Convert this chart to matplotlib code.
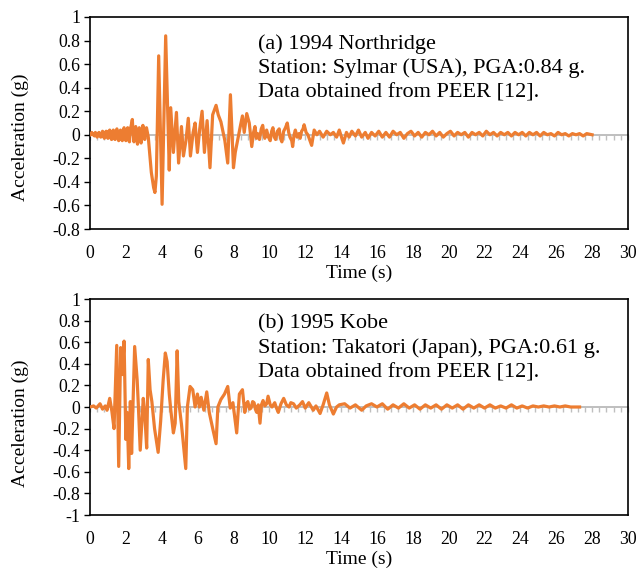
import matplotlib
matplotlib.use("Agg")
import matplotlib.pyplot as plt
import matplotlib.ticker as mticker
import numpy as np

# ---------------- data ----------------
north_t = [0.00, 0.05, 0.10, 0.15, 0.20, 0.25, 0.30, 0.35, 0.40, 0.45, 0.50, 0.55, 0.60, 0.65,
           0.70, 0.75, 0.80, 0.85, 0.90, 0.95, 1.00, 1.05, 1.10, 1.15, 1.20, 1.25, 1.30, 1.35,
           1.40, 1.45, 1.50, 1.55, 1.60, 1.65, 1.70, 1.75, 1.80, 1.85, 1.90, 1.95, 2.00, 2.05,
           2.10, 2.15, 2.20, 2.25, 2.30, 2.36, 2.40, 2.45, 2.50, 2.55, 2.60, 2.65, 2.70, 2.75,
           2.80, 2.85, 2.90, 2.95, 3.00, 3.05, 3.10, 3.15, 3.20, 3.25,
           3.42, 3.55, 3.62, 3.7, 3.83, 4.02, 4.22, 4.42, 4.5, 4.65, 4.82,
           4.94, 5.1, 5.21, 5.35, 5.48, 5.6, 5.75, 5.86, 5.99, 6.12, 6.25, 6.38, 6.53, 6.69,
           6.84, 7.03, 7.15, 7.3, 7.52, 7.68, 7.83, 8.0, 8.1, 8.25, 8.38, 8.5, 8.6, 8.74,
           8.88, 9.02, 9.12, 9.2, 9.28, 9.35, 9.45, 9.55, 9.63, 9.7, 9.75, 9.85, 9.95, 10.05,
           10.13, 10.2, 10.28, 10.35, 10.45, 10.55, 10.62, 10.7, 10.8, 10.9, 11.0, 11.08, 11.15,
           11.25, 11.3, 11.38, 11.45, 11.55, 11.65, 11.72, 11.8, 11.88, 11.94, 12.05,
           12.15, 12.36, 12.5, 12.65, 12.8, 13.0, 13.2, 13.4, 13.57, 13.75, 13.9, 14.13, 14.3,
           14.45, 14.6, 14.8, 14.97, 15.15, 15.35, 15.5, 15.7, 15.9, 16.1, 16.3, 16.5, 16.7,
           16.9, 17.1, 17.3, 17.5, 17.7, 17.9, 18.1, 18.3, 18.5, 18.7, 18.9, 19.1, 19.3, 19.5,
           19.7, 19.9, 20.1, 20.3, 20.5, 20.7, 20.9, 21.1, 21.3, 21.5, 21.7, 21.9, 22.1, 22.3,
           22.5, 22.7, 22.9, 23.1, 23.3, 23.5, 23.7, 23.9, 24.1, 24.3, 24.5, 24.7, 24.9, 25.1,
           25.3, 25.5, 25.7, 25.9, 26.1, 26.3, 26.5, 26.7, 26.9, 27.1, 27.3, 27.5, 27.7, 28.0]
north_a = [0.00, 0.01, 0.02, 0.00, 0.01, -0.01, 0.02, 0.00, -0.02, 0.01, 0.02, -0.01, -0.02, 0.01,
           0.03, -0.01, -0.03, 0.02, 0.03, -0.02, -0.03, 0.03, 0.04, -0.02, -0.04, 0.02, 0.04,
           -0.03, -0.04, 0.03, 0.05, -0.02, -0.05, 0.02, 0.04, -0.03, -0.05, 0.03, 0.06, -0.02,
           -0.05, 0.04, 0.06, -0.04, -0.06, 0.05, 0.08, 0.13, 0.02, -0.06, 0.04, 0.07, -0.03,
           -0.08, 0.02, 0.06, -0.04, -0.07, 0.03, 0.08, 0.01, -0.04, 0.02, 0.06, 0.02, -0.02,
           -0.32, -0.45, -0.49, -0.35, 0.67, -0.59, 0.84, -0.30, 0.23, -0.15, 0.19,
           -0.24, 0.07, -0.18, -0.05, 0.14, -0.18, 0.02, 0.10, -0.15, 0.05, 0.20, -0.15, 0.12,
           -0.28, 0.17, 0.25, 0.17, 0.11, -0.05, -0.24, 0.34, -0.28, -0.15, -0.03, 0.07, 0.16,
           0.02, 0.18, 0.10, -0.10, 0.02, 0.07, -0.03, 0.01, -0.04, 0.05, 0.08, 0.0, -0.03,
           0.04, -0.02, -0.05, 0.03, 0.06, -0.02, -0.04, 0.03, 0.05, -0.03, -0.06, 0.03, 0.06,
           0.10, 0.02, -0.02, -0.05, -0.10, 0.0, 0.04, -0.02, 0.01, -0.03, 0.03, 0.05, 0.085,
           0.02, 0.0, -0.09, 0.04, 0.0, 0.03, -0.02, 0.03, 0.0, 0.02, -0.02, 0.04, -0.07, 0.02,
           -0.02, 0.03, -0.01, 0.04, -0.02, 0.02, -0.03, 0.02, -0.01, 0.03, -0.02, 0.02, -0.02,
           0.03, 0.0, 0.02, -0.03, 0.01, 0.03, -0.01, 0.02, -0.02, 0.02, 0.0, 0.03, -0.01, 0.02,
           -0.02, 0.01, 0.03, -0.01, 0.02, 0.0, 0.02, -0.02, 0.02, 0.0, 0.02, -0.01, 0.03, 0.0,
           0.02, -0.01, 0.02, 0.0, 0.02, -0.01, 0.02, 0.0, 0.02, -0.01, 0.02, 0.0, 0.02, -0.01,
           0.02, 0.0, 0.01, -0.01, 0.02, 0.0, 0.01, -0.01, 0.01, 0.0, 0.01, -0.01, 0.01, 0.0]

kobe_t = [0, 0.2, 0.35, 0.56, 0.7, 0.85, 0.95, 1.1, 1.22, 1.34, 1.49, 1.6, 1.71, 1.8, 1.9, 2.0,
          2.07, 2.16, 2.25, 2.32, 2.49, 2.63, 2.7, 2.8, 2.97, 3.06, 3.16, 3.25, 3.35, 3.45, 3.6,
          3.8, 3.94, 4.08, 4.2, 4.3, 4.42, 4.5, 4.65, 4.75, 4.86, 4.95, 5.1, 5.34, 5.43, 5.58,
          5.73, 5.86, 5.99, 6.1, 6.2, 6.35, 6.51, 6.65, 6.83, 7.03, 7.13, 7.3, 7.5, 7.68, 7.82,
          7.97, 8.18, 8.33, 8.5, 8.63, 8.72, 8.8, 8.9, 8.98, 9.07, 9.15, 9.22, 9.3, 9.38, 9.48,
          9.56, 9.65, 9.75, 9.85, 9.93, 10.05, 10.15, 10.3, 10.4, 10.5, 10.65, 10.8, 10.95, 11.1,
          11.2, 11.35, 11.5, 11.7, 11.85, 12.0, 12.2, 12.45, 12.6, 12.83, 13.0, 13.2, 13.35,
          13.57, 13.75, 13.9, 14.2, 14.5, 14.8, 15.15, 15.4, 15.7, 16.0, 16.3, 16.6, 16.9, 17.2,
          17.5, 17.8, 18.1, 18.4, 18.7, 19.0, 19.3, 19.6, 19.9, 20.2, 20.5, 20.8, 21.1, 21.4,
          21.7, 22.0, 22.3, 22.6, 22.9, 23.2, 23.5, 23.8, 24.1, 24.4, 24.7, 25.0, 25.3, 25.6,
          25.9, 26.2, 26.5, 26.8, 27.3]
kobe_a = [0, 0.01, -0.01, 0.03, -0.02, 0.01, -0.03, 0.08, -0.04, -0.20, 0.57, -0.55, 0.55, 0.30,
          0.61, -0.30, -0.05, -0.57, 0.05, -0.43, 0.56, 0.25, 0.0, -0.40, 0.08, -0.08, -0.38,
          0.44, 0.16, 0.05, -0.20, -0.42, -0.13, 0.25, 0.50, 0.42, 0.12, -0.02, -0.24, -0.15,
          0.52, 0.05, -0.16, -0.57, 0.0, 0.19, 0.16, 0.0, 0.12, 0.0, 0.09, -0.03, 0.14, -0.05,
          -0.19, -0.34, 0.0, 0.07, 0.12, 0.19, -0.01, 0.04, -0.24, 0.12, 0.16, -0.05, 0.03,
          0.05, -0.02, -0.01, 0.05, 0.04, -0.02, -0.05, 0.02, -0.15, 0.02, 0.06, 0.01, 0.03,
          0.10, 0.02, 0.0, 0.04, -0.01, -0.05, 0.03, 0.08, 0.02, 0.0, 0.04, 0.03, -0.01, 0.02,
          0.05, -0.01, 0.04, -0.03, 0.01, -0.06, 0.02, 0.13, 0.02, -0.065, 0.0, 0.02, 0.03,
          -0.01, 0.02, -0.03, 0.01, 0.03, 0.0, 0.03, -0.02, 0.02, -0.01, 0.03, -0.01, 0.02,
          -0.02, 0.02, -0.01, 0.02, -0.02, 0.02, -0.01, 0.02, -0.02, 0.02, -0.01, 0.02, -0.01,
          0.02, -0.01, 0.01, -0.01, 0.02, -0.01, 0.01, -0.01, 0.01, 0.0, 0.01, 0.0, 0.01, 0.0,
          0.01, 0.0, 0.0]

x_ticks = [0, 2, 4, 6, 8, 10, 12, 14, 16, 18, 20, 22, 24, 26, 28, 30]
top_yticks = [-0.8, -0.6, -0.4, -0.2, 0, 0.2, 0.4, 0.6, 0.8, 1]
bot_yticks = [-1, -0.8, -0.6, -0.4, -0.2, 0, 0.2, 0.4, 0.6, 0.8, 1]

top_text = ["(a) 1994 Northridge", "Station: Sylmar (USA), PGA:0.84 g.", "Data obtained from PEER [12]."]
bot_text = ["(b) 1995 Kobe", "Station: Takatori (Japan), PGA:0.61 g.", "Data obtained from PEER [12]."]

# ---------------- style ----------------
plt.rcParams['font.family'] = ['Liberation Serif', 'DejaVu Serif']
W, H = 640, 578
fig = plt.figure(figsize=(W / 100, H / 100), dpi=100)
ORANGE = '#ED7D31'
GRAY = '#BFBFBF'


def fmt(v, pos=None):
    s = ('%.1f' % v).rstrip('0').rstrip('.')
    if s == '-0':
        s = '0'
    return s


def make_panel(rect, t, a, ylim, yticks, texts, text_y, ylabel_y):
    ax = fig.add_axes(rect)
    ax.set_xlim(0, 30)
    ax.set_ylim(*ylim)
    ax.set_yticks(yticks)
    ax.yaxis.set_major_formatter(mticker.FuncFormatter(fmt))
    ax.set_xticks(x_ticks)
    ax.xaxis.set_major_formatter(mticker.FuncFormatter(fmt))
    ax.tick_params(axis='x', length=0, pad=11.5, labelsize=12.8)
    ax.tick_params(axis='y', length=4, width=1.0, pad=3, labelsize=12.8, direction='out')
    for s in ax.spines.values():
        s.set_color('black')
        s.set_linewidth(1.2)
    # zero axis with minor ticks
    loc = (0 - ylim[0]) / (ylim[1] - ylim[0])
    sec = ax.secondary_xaxis(loc)
    sec.set_alignment('bottom')
    sec.set_xticks(np.arange(0, 30.01, 0.4))
    sec.tick_params(axis='x', length=3.5, width=1.0, color=GRAY, labelbottom=False, labeltop=False,
                    direction='out')
    for s in sec.spines.values():
        s.set_color(GRAY)
        s.set_linewidth(1.4)
    ax.plot(t, a, color=ORANGE, lw=2.3, solid_joinstyle='round', zorder=3)
    ax.set_xlabel('Time (s)', fontsize=14, labelpad=2)
    fig.text(20 / W, 1 - ylabel_y / H, 'Acceleration (g)', rotation=90, ha='center', va='center',
             fontsize=14)
    for i, s in enumerate(texts):
        fig.text(258 / W, 1 - (text_y + 24.5 * i) / H, s, ha='left', va='center', fontsize=16)
    return ax


make_panel([90 / W, 1 - 229 / H, 538 / W, 212 / H], north_t, north_a, (-0.8, 1.0), top_yticks,
           top_text, 44, 137)
make_panel([90 / W, 1 - 515 / H, 538 / W, 216 / H], kobe_t, kobe_a, (-1.0, 1.0), bot_yticks,
           bot_text, 324, 423)

fig.savefig('out.png', dpi=100)
